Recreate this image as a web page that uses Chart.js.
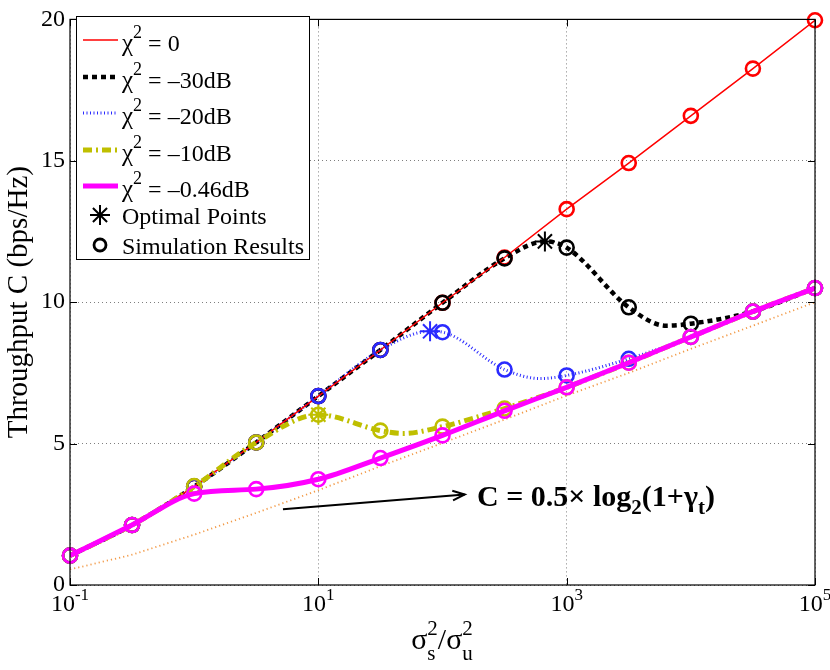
<!DOCTYPE html>
<html><head><meta charset="utf-8">
<script src="https://cdn.jsdelivr.net/npm/chart.js@4.4.0/dist/chart.umd.min.js"></script>
<style>html,body{margin:0;padding:0;background:#fff;}</style>
</head><body>
<canvas id="c" width="830" height="670"></canvas>
<script>
// ---------- data ----------
const xGrid = [0.1, 0.316, 1, 3.16, 10, 31.6, 100, 316, 1000, 3162, 10000, 31623, 100000];

const redVals     = [1.04, 2.12, 3.48, 5.04, 6.68, 8.31, 9.98, 11.58, 13.29, 14.92, 16.59, 18.26, 19.97];
const orangeVals  = [0.55, 1.07, 1.78, 2.55, 3.35, 4.20, 5.02, 5.85, 6.70, 7.50, 8.35, 9.17, 10.0];

const blackLineX  = [0.1, 0.316, 1, 3.16, 10, 31.6, 100, 316, 668, 1000, 3162, 6310, 10000, 31623, 100000];
const blackLineY  = [1.04, 2.12, 3.48, 5.04, 6.68, 8.31, 9.98, 11.55, 12.15, 11.93, 9.82, 9.17, 9.24, 9.67, 10.5];
const blackCirc   = [1.04, 2.12, 3.48, 5.04, 6.68, 8.31, 9.98, 11.55, 11.93, 9.82, 9.24, 9.67, 10.5];

const blueLineX   = [0.1, 0.316, 1, 3.16, 10, 31.6, 79.4, 100, 316, 610, 1000, 3162, 10000, 31623, 100000];
const blueLineY   = [1.04, 2.12, 3.48, 5.04, 6.68, 8.31, 8.97, 8.94, 7.62, 7.30, 7.41, 8.00, 8.77, 9.67, 10.5];
const blueCirc    = [1.04, 2.12, 3.48, 5.04, 6.68, 8.31, 8.94, 7.62, 7.41, 8.00, 8.77, 9.67, 10.5];

const yellowLineX = [0.1, 0.316, 1, 3.16, 10, 31.6, 48, 100, 316, 1000, 3162, 10000, 31623, 100000];
const yellowLineY = [1.04, 2.12, 3.48, 5.04, 6.02, 5.46, 5.36, 5.60, 6.24, 6.99, 7.86, 8.77, 9.67, 10.5];
const yellowCirc  = [1.04, 2.12, 3.50, 5.04, 6.02, 5.46, 5.60, 6.24, 6.99, 7.86, 8.77, 9.67, 10.5];

const magentaVals = [1.04, 2.12, 3.23, 3.39, 3.74, 4.49, 5.29, 6.16, 6.99, 7.86, 8.77, 9.67, 10.5];

const optX = [668, 79.4, 10];       // black, blue, yellow optimal points
const optY = [12.15, 8.97, 6.02];

const xTickVals = [0.1, 10, 1000, 100000];
const xTickExps = ['-1', '1', '3', '5'];
const yTickVals = [0, 5, 10, 15, 20];

const legendValues = ['0', '\u201330dB', '\u201320dB', '\u201310dB', '\u20130.46dB'];
const legendMarkers = ['Optimal Points', 'Simulation Results'];

// ---------- styles ----------
const COL = {red:'#ff0000', black:'#000000', blue:'#2a2aff', yellow:'#bfbf00', magenta:'#ff00ff', orange:'#f29a48'};
const FONT = '"Liberation Serif", "Times New Roman", serif';

const pts = (xs, ys) => xs.map((x, i) => ({x, y: ys[i]}));

function lineDS(label, xs, ys, color, width, dash, order, mono) {
  return {label, data: pts(xs, ys), borderColor: color, borderWidth: width, borderDash: dash,
    borderCapStyle: 'butt', pointRadius: 0, pointHoverRadius: 0, fill: false, showLine: true,
    tension: 0, cubicInterpolationMode: mono ? 'monotone' : 'default', order};
}
function circDS(label, ys, color, order) {
  return {label, data: pts(xGrid, ys), showLine: false, pointStyle: 'circle', pointRadius: 7,
    pointBorderWidth: 2.6, pointBorderColor: color, pointBackgroundColor: 'rgba(0,0,0,0)',
    borderColor: color, backgroundColor: 'rgba(0,0,0,0)', clip: false, order};
}
function starDS(label, i, color, order) {
  return {label, data: [{x: optX[i], y: optY[i]}], showLine: false, pointStyle: 'star', pointRadius: 10,
    pointBorderWidth: 2, pointBorderColor: color, borderColor: color, clip: false, order};
}

const DASH = {black:[5,4], blue:[1,2.5], yellow:[9,4,2,4], orange:[1.2,3]};

const datasets = [
  circDS('mag circ', magentaVals, COL.magenta, 1),
  lineDS('\u03c7\u00b2 = \u20130.46dB', xGrid, magentaVals, COL.magenta, 5, [], 2, true),
  starDS('yel star', 2, COL.yellow, 3),
  circDS('yel circ', yellowCirc, COL.yellow, 4),
  lineDS('\u03c7\u00b2 = \u201310dB', yellowLineX, yellowLineY, COL.yellow, 5, DASH.yellow, 5, true),
  starDS('blue star', 1, COL.blue, 6),
  circDS('blue circ', blueCirc, COL.blue, 7),
  starDS('black star', 0, COL.black, 8),
  circDS('black circ', blackCirc, COL.black, 9),
  circDS('red circ', redVals, COL.red, 10),
  lineDS('\u03c7\u00b2 = 0', xGrid, redVals, COL.red, 1.5, [], 11, false),
  lineDS('\u03c7\u00b2 = \u201320dB', blueLineX, blueLineY, COL.blue, 3, DASH.blue, 12, true),
  lineDS('\u03c7\u00b2 = \u201330dB', blackLineX, blackLineY, COL.black, 4.5, DASH.black, 13, true),
  lineDS('C = 0.5 log2(1+gt)', xGrid, orangeVals, COL.orange, 1.8, DASH.orange, 14, false)
];

// ---------- helpers ----------
function richText(ctx, parts, x, y) {
  let cx = x;
  for (const p of parts) {
    ctx.font = (p.bold ? 'bold ' : '') + p.size + 'px ' + FONT;
    ctx.fillText(p.t, cx, y + (p.dy || 0));
    cx += ctx.measureText(p.t).width;
  }
  return cx - x;
}
function richWidth(ctx, parts) {
  let w = 0;
  for (const p of parts) {
    ctx.font = (p.bold ? 'bold ' : '') + p.size + 'px ' + FONT;
    w += ctx.measureText(p.t).width;
  }
  return w;
}

const decor = {
  id: 'decor',
  afterDatasetsDraw(chart) {
    const {ctx, chartArea: a, scales: {x, y}} = chart;
    ctx.save();
    // frame
    ctx.strokeStyle = '#000'; ctx.lineWidth = 1.2; ctx.setLineDash([]);
    ctx.strokeRect(a.left, a.top, a.right - a.left, a.bottom - a.top);
    // inward ticks
    ctx.lineWidth = 1;
    ctx.beginPath();
    for (const v of yTickVals) {
      const py = Math.round(y.getPixelForValue(v)) + 0.5;
      ctx.moveTo(a.left, py); ctx.lineTo(a.left + 7, py);
      ctx.moveTo(a.right, py); ctx.lineTo(a.right - 7, py);
    }
    for (const v of xTickVals) {
      const px = Math.round(x.getPixelForValue(v)) + 0.5;
      ctx.moveTo(px, a.bottom); ctx.lineTo(px, a.bottom - 7);
      ctx.moveTo(px, a.top); ctx.lineTo(px, a.top + 7);
    }
    ctx.stroke();

    ctx.fillStyle = '#000';
    ctx.textBaseline = 'alphabetic';
    ctx.textAlign = 'left';
    // x tick labels
    xTickVals.forEach((v, i) => {
      const parts = [{t: '10', size: 24}, {t: xTickExps[i], size: 17, dy: -11}];
      const w = richWidth(ctx, parts);
      const px = x.getPixelForValue(v);
      richText(ctx, parts, px - w / 2, a.bottom + 26);
    });

    // x title
    {
      const s = 30, ss = 21;
      ctx.font = s + 'px ' + FONT;
      const sig = ctx.measureText('\u03c3').width;
      ctx.font = ss + 'px ' + FONT;
      const two = ctx.measureText('2').width;
      ctx.font = s + 'px ' + FONT;
      const sl = ctx.measureText('/').width;
      const total = sig + two + sl + sig + two;
      let cx = 442 - total / 2;
      const by = a.bottom + 64;
      ctx.font = s + 'px ' + FONT; ctx.fillText('\u03c3', cx, by); cx += sig;
      ctx.font = ss + 'px ' + FONT; ctx.fillText('2', cx, by - 14); ctx.fillText('s', cx, by + 11); cx += two;
      ctx.font = s + 'px ' + FONT; ctx.fillText('/', cx, by); cx += sl;
      ctx.fillText('\u03c3', cx, by); cx += sig;
      ctx.font = ss + 'px ' + FONT; ctx.fillText('2', cx, by - 14); ctx.fillText('u', cx, by + 11);
    }

    // y title
    ctx.save();
    ctx.translate(27, (a.top + a.bottom) / 2);
    ctx.rotate(-Math.PI / 2);
    ctx.textAlign = 'center';
    ctx.font = '29px ' + FONT;
    ctx.fillText('Throughput C (bps/Hz)', 0, 0);
    ctx.restore();

    // arrow annotation (data coordinates)
    const tx = x.getPixelForValue(5.19), ty = y.getPixelForValue(2.68);
    const hx = x.getPixelForValue(151), hy = y.getPixelForValue(3.2);
    ctx.strokeStyle = '#000'; ctx.lineWidth = 2;
    ctx.beginPath(); ctx.moveTo(tx, ty); ctx.lineTo(hx, hy); ctx.stroke();
    const ang = Math.atan2(hy - ty, hx - tx);
    ctx.beginPath();
    ctx.moveTo(hx - 13 * Math.cos(ang - 0.38), hy - 13 * Math.sin(ang - 0.38));
    ctx.lineTo(hx, hy);
    ctx.lineTo(hx - 13 * Math.cos(ang + 0.38), hy - 13 * Math.sin(ang + 0.38));
    ctx.stroke();
    const ax = x.getPixelForValue(190), ay = y.getPixelForValue(2.78);
    richText(ctx, [
      {t: 'C = 0.5\u00d7 log', size: 30, bold: true},
      {t: '2', size: 21, bold: true, dy: 8},
      {t: '(1+\u03b3', size: 30, bold: true},
      {t: 't', size: 21, bold: true, dy: 8},
      {t: ')', size: 30, bold: true}
    ], ax, ay);

    // legend
    const L = {x: 76, y: 16, w: 233, h: 243};
    ctx.fillStyle = '#fff';
    ctx.fillRect(L.x, L.y, L.w, L.h);
    ctx.strokeStyle = '#000'; ctx.lineWidth = 1;
    ctx.strokeRect(L.x + 0.5, L.y + 0.5, L.w, L.h);
    const lineSets = [
      {c: COL.red, w: 1.5, d: []},
      {c: COL.black, w: 4.5, d: DASH.black},
      {c: COL.blue, w: 3, d: DASH.blue},
      {c: COL.yellow, w: 5, d: DASH.yellow},
      {c: COL.magenta, w: 5, d: []}
    ];
    const rows = [40, 77, 113, 150, 186];
    legendValues.forEach((val, i) => {
      const ry = rows[i];
      const ls = lineSets[i];
      ctx.strokeStyle = ls.c; ctx.lineWidth = ls.w; ctx.setLineDash(ls.d); ctx.lineCap = 'butt';
      ctx.beginPath(); ctx.moveTo(83, ry); ctx.lineTo(118, ry); ctx.stroke();
      ctx.setLineDash([]);
      ctx.fillStyle = '#000';
      richText(ctx, [{t: '\u03c7', size: 25}, {t: '2', size: 18, dy: -13}, {t: ' = ' + val, size: 24}], 122, ry + 11);
    });
    const mrows = [215, 245];
    {
      const cx = 100, cy = mrows[0], r = 10;
      ctx.strokeStyle = '#000'; ctx.lineWidth = 2;
      ctx.beginPath();
      for (let k = 0; k < 4; k++) {
        const an = k * Math.PI / 4;
        ctx.moveTo(cx - r * Math.cos(an), cy - r * Math.sin(an));
        ctx.lineTo(cx + r * Math.cos(an), cy + r * Math.sin(an));
      }
      ctx.stroke();
    }
    ctx.beginPath(); ctx.lineWidth = 2.8; ctx.arc(100, mrows[1], 6, 0, Math.PI * 2); ctx.stroke();
    ctx.font = '24px ' + FONT; ctx.fillStyle = '#000';
    ctx.fillText(legendMarkers[0], 122, mrows[0] + 9);
    ctx.fillText(legendMarkers[1], 122, mrows[1] + 9);
    ctx.restore();
  }
};

new Chart(document.getElementById('c'), {
  type: 'line',
  data: {datasets},
  options: {
    responsive: false, animation: false,
    layout: {padding: {left: 0, right: 15, top: 10, bottom: 0}},
    plugins: {legend: {display: false}, tooltip: {enabled: false}},
    scales: {
      x: {type: 'logarithmic', min: 0.1, max: 100000,
        afterBuildTicks: s => { s.ticks = xTickVals.map(v => ({value: v})); },
        afterFit: s => { s.height = 85; },
        ticks: {display: false},
        grid: {color: 'rgba(0,0,0,0.5)', lineWidth: 1, drawTicks: false},
        border: {display: false, dash: [1, 3]}
      },
      y: {type: 'linear', min: 0, max: 20,
        afterBuildTicks: s => { s.ticks = yTickVals.map(v => ({value: v})); },
        afterFit: s => { s.width = 70; },
        ticks: {color: '#000', font: {family: FONT, size: 24}, padding: 5},
        grid: {color: 'rgba(0,0,0,0.5)', lineWidth: 1, drawTicks: false},
        border: {display: false, dash: [1, 3]}
      }
    }
  },
  plugins: [decor]
});
</script>
</body></html>
